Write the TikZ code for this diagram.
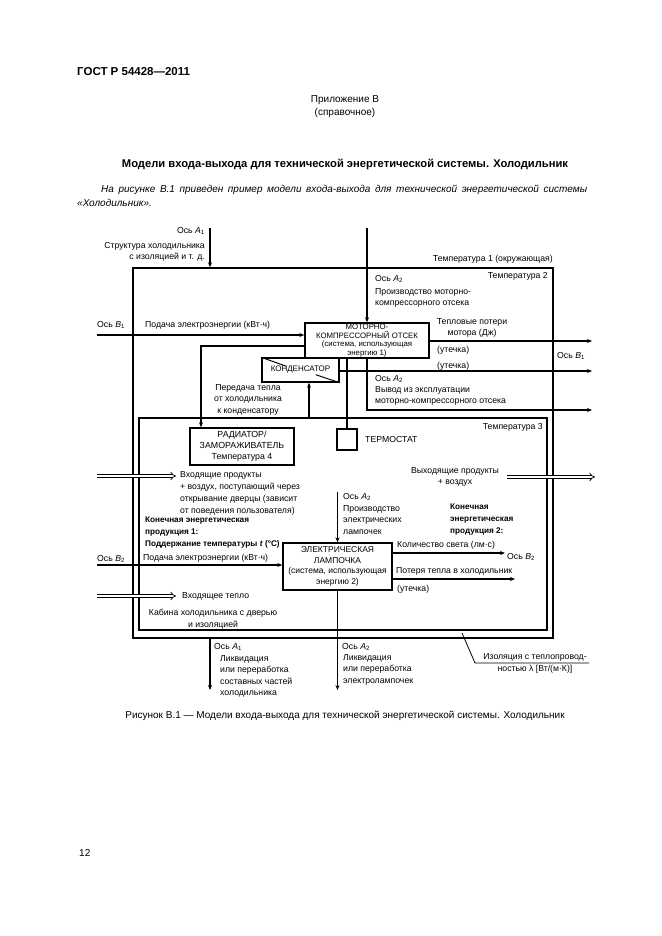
\documentclass[tikz,border=0pt]{standalone}
\usepackage{fontspec}
\setmainfont{Liberation Sans}
\usetikzlibrary{arrows.meta}
\newcommand\axl[2]{\textit{#1}\textsubscript{#2}}
\newcommand\dgfont{\fontsize{8.7}{11.6}\selectfont}

\begin{document}
\begin{tikzpicture}[
    x=1pt, y=-1pt,
    every node/.style={font=\dgfont, inner sep=0pt},
    blk/.style={draw, line width=1.4pt, align=center},
    wire/.style={line width=1.4pt},
    arr/.style={wire, -{Stealth[length=5pt,width=4pt]}},
    hollow/.style={double, double distance=2.2pt, line width=0.7pt, -{Implies}},
    txt/.style={align=left, anchor=north west},
    txtr/.style={align=right, anchor=north east},
    txtc/.style={align=center, anchor=north},
    bold/.style={font=\fontsize{8.2}{11.8}\selectfont\bfseries}
]
    \useasboundingbox (0,0) rectangle (661,936);

    % Page head
    \node[anchor=west, font=\fontsize{11.5}{13}\selectfont\bfseries] (gost) at (77,72) {ГОСТ Р 54428—2011};
    \node[font=\fontsize{10}{13}\selectfont, align=center] (annex) at (345,107) {Приложение В\\(справочное)};
    \node[font=\fontsize{11.2}{13}\selectfont\bfseries] (title) at (345,164)
        {Модели входа-выхода для технической энергетической системы. Холодильник};
    \node[anchor=west, font=\fontsize{10}{12}\selectfont\itshape] (par1) at (101,190)
        {\makebox[486pt][s]{На рисунке В.1 приведен пример модели входа-выхода для технической энергетической системы}};
    \node[anchor=west, font=\fontsize{10}{12}\selectfont\itshape] (par2) at (77,203) {«Холодильник».};

    % Cabinet boxes
    \node[blk, minimum width=420pt, minimum height=370pt] (cabout) at (343,453) {};
    \node[blk, minimum width=408pt, minimum height=212pt] (cabin) at (343,524) {};

    % Units
    \node[blk, minimum width=124pt, minimum height=35pt, font=\fontsize{7.8}{8.6}\selectfont] (motor) at (367,340.5)
        {МОТОРНО-\\КОМПРЕССОРНЫЙ ОТСЕК\\(система, использующая\\энергию 1)};
    \node[blk, minimum width=77pt, minimum height=24pt, font=\fontsize{8}{9}\selectfont] (cond) at (300.5,370) {КОНДЕНСАТОР};
    \draw[line width=1pt] (cond.north west) -- ++(25,9);
    \draw[line width=1pt] (cond.south east) -- ++(-24,-8);
    \node[blk, minimum width=104pt, minimum height=37pt, font=\fontsize{8.8}{11}\selectfont] (rad) at (242,446.5)
        {РАДИАТОР/\\ЗАМОРАЖИВАТЕЛЬ\\Температура 4};
    \node[blk, minimum width=20pt, minimum height=21pt] (thermo) at (347,439.5) {};
    \node[blk, minimum width=109pt, minimum height=47pt, font=\fontsize{8.5}{10.5}\selectfont] (lamp) at (337.5,566.5)
        {ЭЛЕКТРИЧЕСКАЯ\\ЛАМПОЧКА\\(система, использующая\\энергию 2)};

    % Labels, upper part
    \node[anchor=east] (a1lbl) at (205,231) {Ось \axl{A}{1}};
    \node[txtr] (struct) at (205,242) {Структура холодильника\\с изоляцией и т. д.};
    \node[anchor=east] (t1) at (553,259) {Температура 1 (окружающая)};
    \node[anchor=east] (t2) at (548,276) {Температура 2};
    \node[anchor=west] (a2lbl) at (375,279) {Ось \axl{A}{2}};
    \node[txt] (prodm) at (375,288) {Производство моторно-\\компрессорного отсека};
    \node[anchor=west] (b1lbl) at (97,325) {Ось \axl{B}{1}};
    \node[anchor=west] (pow1) at (145,325) {Подача электроэнергии (кВт·ч)};
    \node[txtc] (heatm) at (472,318) {Тепловые потери\\мотора (Дж)};
    \node[anchor=west] (leak1) at (437,350) {(утечка)};
    \node[anchor=west] (leak2) at (437,366) {(утечка)};
    \node[anchor=west] (b1out) at (557,356) {Ось \axl{B}{1}};
    \node[anchor=west] (a2lblb) at (375,379) {Ось \axl{A}{2}};
    \node[txt] (decom) at (375,386) {Вывод из эксплуатации\\моторно-компрессорного отсека};
    \node[txtc] (transf) at (248,384) {Передача тепла\\от холодильника\\к конденсатору};
    \node[anchor=east] (t3) at (543,427) {Температура 3};
    \node[anchor=west] (thlbl) at (365,440) {ТЕРМОСТАТ};

    % Labels, lower part
    \node[txt, font=\fontsize{8.7}{12}\selectfont] (prodin) at (180,471)
        {Входящие продукты\\+ воздух, поступающий через\\открывание дверцы (зависит\\от поведения пользователя)};
    \node[txtc] (prodout) at (455,467) {Выходящие продукты\\+ воздух};
    \node[txt, bold] (fin1) at (145,517) {Конечная энергетическая\\продукция 1:\\Поддержание температуры \textit{t} (°C)};
    \node[anchor=west] (a2lamp) at (343,497) {Ось \axl{A}{2}};
    \node[txt] (prodl) at (343,505) {Производство\\электрических\\лампочек};
    \node[txt, bold] (fin2) at (450,504) {Конечная\\энергетическая\\продукция 2:};
    \node[anchor=west] (b2lbl) at (97,559) {Ось \axl{B}{2}};
    \node[anchor=west] (pow2) at (143,558) {Подача электроэнергии (кВт·ч)};
    \node[anchor=west] (lightlbl) at (397,545) {Количество света (лм·с)};
    \node[anchor=west] (b2out) at (507,557) {Ось \axl{B}{2}};
    \node[anchor=west] (losslbl) at (396,571) {Потеря тепла в холодильник};
    \node[anchor=west] (leak3) at (397,589) {(утечка)};
    \node[anchor=west] (heatin) at (182,596) {Входящее тепло};
    \node[txtc] (cablbl) at (213,609) {Кабина холодильника с дверью\\и изоляцией};
    \node[anchor=west] (a1end) at (214,647) {Ось \axl{A}{1}};
    \node[txt] (disp1) at (220,655) {Ликвидация\\или переработка\\составных частей\\холодильника};
    \node[anchor=west] (a2end) at (342,647) {Ось \axl{A}{2}};
    \node[txt] (disp2) at (343,654) {Ликвидация\\или переработка\\электролампочек};
    \node[txtc, font=\fontsize{8.7}{12.5}\selectfont] (inslbl) at (535,653) {Изоляция с теплопровод-\\ностью λ [Вт/(м·К)]};

    % Free ends
    \coordinate (a1top) at (210,228);
    \coordinate (a2top) at (367,228);
    \coordinate (b1in) at (97,335);
    \coordinate (loop) at (201,346);
    \coordinate (heat) at (309,418);
    \coordinate (lossm) at (592,341);
    \coordinate (lossc) at (592,371);
    \coordinate (outm) at (592,410);
    \coordinate (a2l) at (337.5,492);
    \coordinate (b2in) at (97,565);
    \coordinate (light) at (505,553);
    \coordinate (lossl) at (515,579);
    \coordinate (a1bot) at (210,690);
    \coordinate (a2bot) at (337.5,690);
    \coordinate (pin) at (97,476);
    \coordinate (pout) at (595,477);
    \coordinate (hin) at (97,596);
    \coordinate (ins) at (462,633);
    \coordinate (insk) at (475,663);
    \coordinate (inse) at (589,663);

    % Connectors
    \draw[arr] (a1top) -- (a1top |- cabout.north);
    \draw[arr] (a2top) -- (motor.north);
    \draw[arr] (b1in) -- (b1in -| motor.west);
    \draw[arr] (loop -| motor.west) -- (loop) -- (loop |- rad.north);
    \draw[arr] (heat |- cabin.north) -- (heat |- cond.south);
    \draw[wire] (thermo.north |- motor.south) -- (thermo.north);
    \draw[arr] (lossm -| motor.east) -- (lossm);
    \draw[arr] (lossc -| cond.east) -- (lossc);
    \draw[arr] (motor.south) -- (motor.south |- outm) -- (outm);
    \draw[arr] (a2l) -- (lamp.north);
    \draw[arr] (b2in) -- (b2in -| lamp.west);
    \draw[arr] (light -| lamp.east) -- (light);
    \draw[arr] (lossl -| lamp.east) -- (lossl);
    \draw[arr] (lamp.south) -- (a2bot);
    \draw[arr] (a1bot |- cabout.south) -- (a1bot);
    \draw[hollow] (pin) -- ([xshift=-4pt]pin -| prodin.west);
    \draw[hollow] ([xshift=8pt]pout -| prodout.east) -- (pout);
    \draw[hollow] (hin) -- ([xshift=-6pt]hin -| heatin.west);
    \draw[line width=0.8pt] (ins) -- (insk) -- (inse);

    % Caption and page number
    \node[font=\fontsize{10}{12}\selectfont] (caption) at (345,716)
        {Рисунок В.1 — Модели входа-выхода для технической энергетической системы. Холодильник};
    \node[anchor=west, font=\fontsize{10}{12}\selectfont] (pageno) at (79,853) {12};
\end{tikzpicture}
\end{document}
